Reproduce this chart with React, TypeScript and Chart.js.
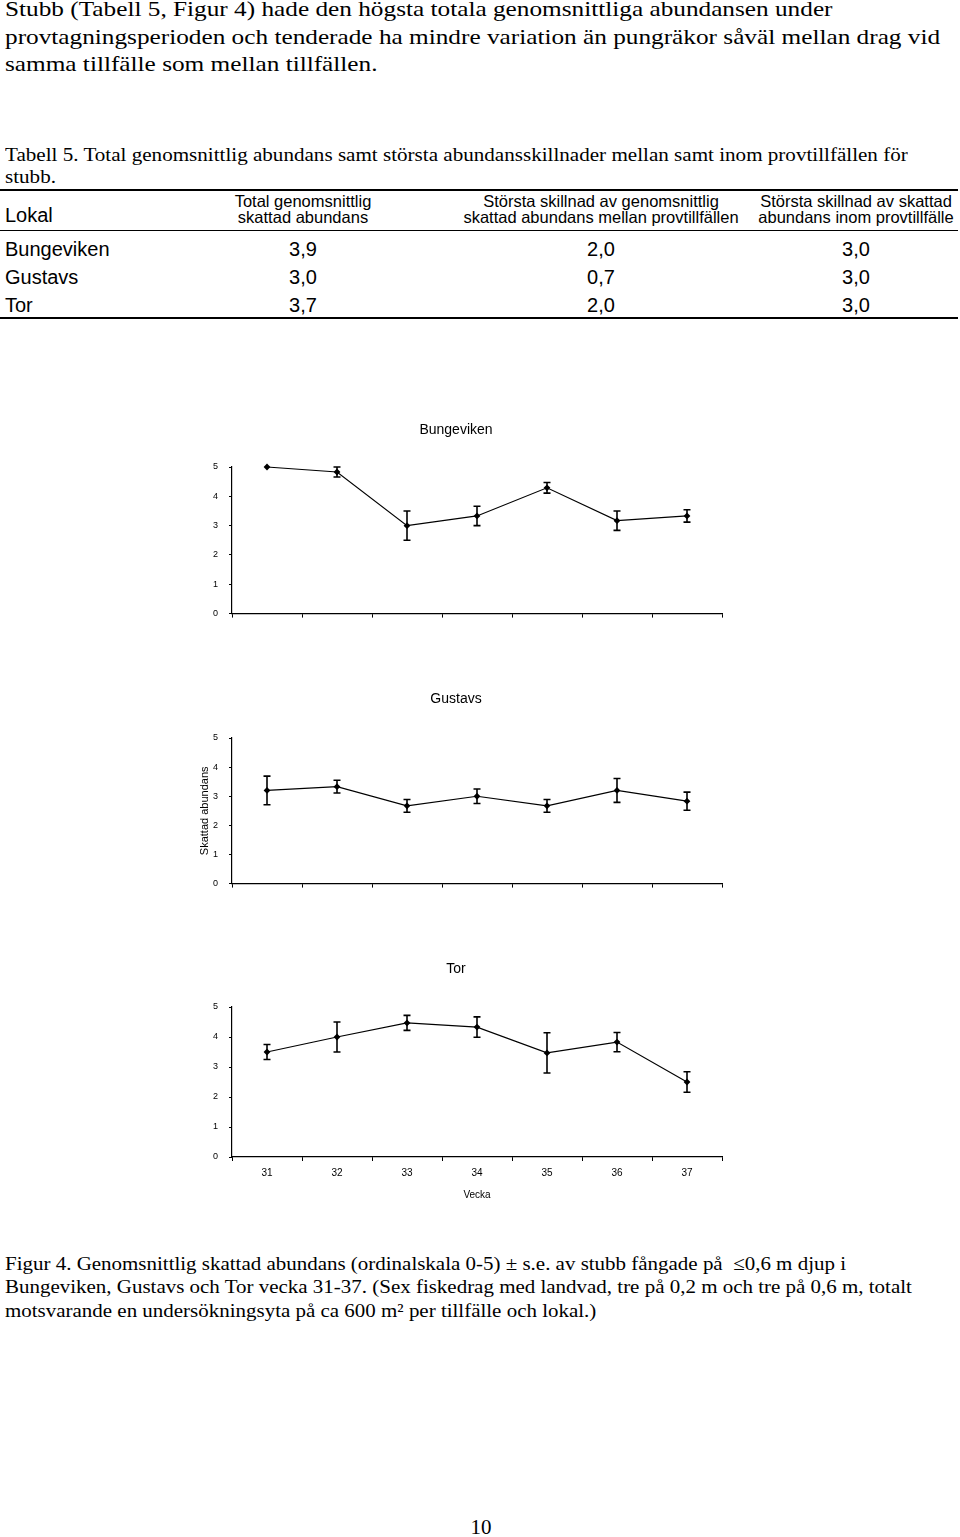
import React, { useEffect, useRef } from "react";
import { Chart, registerables } from "chart.js";

Chart.register(...registerables);

// ---- data ----
const weeks = ["31", "32", "33", "34", "35", "36", "37"];
const bungevikenMean = [5.0, 4.83, 3.0, 3.33, 4.29, 3.17, 3.33];
const bungevikenSe = [0, 0.17, 0.5, 0.33, 0.18, 0.33, 0.21];
const gustavsMean = [3.2, 3.33, 2.67, 3.0, 2.67, 3.2, 2.83];
const gustavsSe = [0.49, 0.22, 0.22, 0.25, 0.22, 0.41, 0.31];
const torMean = [3.5, 4.0, 4.47, 4.33, 3.47, 3.83, 2.5];
const torSe = [0.25, 0.5, 0.25, 0.34, 0.67, 0.32, 0.34];
const yMin = 0;
const yMax = 5;
const yStep = 1;

const lokaler = ["Bungeviken", "Gustavs", "Tor"];
const totalMean = ["3,9", "3,0", "3,7"];
const maxDiffBetween = ["2,0", "0,7", "2,0"];
const maxDiffWithin = ["3,0", "3,0", "3,0"];

const SANS = "'Liberation Sans', Arial, sans-serif";
const SERIF = "'Liberation Serif', 'Times New Roman', serif";

type ChartProps = {
  title: string;
  means: number[];
  se: number[];
  top: number;
  height: number;
  titleBottomPad: number;
  yTitle?: string;
  showX?: boolean;
  xTitle?: string;
  xAxisHeight: number;
};

function ErrorLineChart(p: ChartProps) {
  const ref = useRef<HTMLCanvasElement | null>(null);
  useEffect(() => {
    if (!ref.current) return;
    const se = p.se;
    const errorBars = {
      id: "errorBars",
      afterDatasetsDraw(chart: any) {
        const ctx = chart.ctx;
        const meta = chart.getDatasetMeta(0);
        const ys = chart.scales.y;
        const vals = chart.data.datasets[0].data as number[];
        ctx.save();
        ctx.strokeStyle = "#000";
        ctx.lineWidth = 1.6;
        meta.data.forEach((pt: any, i: number) => {
          const e = se[i];
          if (!e) return;
          const x = pt.x;
          const y1 = ys.getPixelForValue(vals[i] + e);
          const y2 = ys.getPixelForValue(vals[i] - e);
          ctx.beginPath();
          ctx.moveTo(x, y1);
          ctx.lineTo(x, y2);
          ctx.moveTo(x - 3.5, y1);
          ctx.lineTo(x + 3.5, y1);
          ctx.moveTo(x - 3.5, y2);
          ctx.lineTo(x + 3.5, y2);
          ctx.stroke();
        });
        ctx.restore();
      },
    };
    const chart = new Chart(ref.current, {
      type: "line",
      data: {
        labels: weeks,
        datasets: [
          {
            data: p.means,
            borderColor: "#000",
            backgroundColor: "#000",
            borderWidth: 1.2,
            pointStyle: "rectRot",
            pointRadius: 3.4,
            pointBackgroundColor: "#000",
            pointBorderColor: "#000",
            pointBorderWidth: 0,
            tension: 0,
            clip: false as any,
          },
        ],
      },
      options: {
        animation: false,
        responsive: false,
        layout: { padding: { left: 0, right: 18, top: 0, bottom: 0 } },
        plugins: {
          legend: { display: false },
          tooltip: { enabled: false },
          title: {
            display: true,
            text: p.title,
            color: "#000",
            font: { family: SANS, size: 14, weight: "normal", lineHeight: 1.2 },
            padding: { top: 12, bottom: p.titleBottomPad },
          },
        },
        scales: {
          x: {
            type: "category",
            offset: true,
            grid: {
              offset: true,
              drawOnChartArea: false,
              drawTicks: true,
              tickLength: 4,
              color: "#000",
            },
            border: { display: true, color: "#000", width: 1.2 },
            ticks: {
              display: !!p.showX,
              color: "#000",
              padding: 6,
              font: { family: SANS, size: 10 },
              maxRotation: 0,
            },
            title: {
              display: !!p.xTitle,
              text: p.xTitle || "",
              color: "#000",
              font: { family: SANS, size: 10, lineHeight: 1.2 },
              padding: { top: 0, bottom: 4 },
            },
            afterFit: (s: any) => {
              s.height = p.xAxisHeight;
            },
          },
          y: {
            min: yMin,
            max: yMax,
            ticks: {
              stepSize: yStep,
              color: "#000",
              padding: 11,
              font: { family: SANS, size: 9 },
            },
            grid: {
              drawOnChartArea: false,
              drawTicks: true,
              tickLength: 3,
              color: "#000",
            },
            border: { display: true, color: "#000", width: 1.2 },
            title: {
              display: !!p.yTitle,
              text: p.yTitle || "",
              color: "#000",
              font: { family: SANS, size: 11, lineHeight: 1.2 },
              padding: { top: 8.4, bottom: 0 },
            },
            afterFit: (s: any) => {
              s.width = 42;
            },
          },
        },
      },
      plugins: [errorBars],
    });
    return () => chart.destroy();
  }, []);
  return (
    <canvas
      ref={ref}
      width={550}
      height={p.height}
      style={{ position: "absolute", left: 190, top: p.top, width: 550, height: p.height }}
    />
  );
}

const abs = (s: React.CSSProperties): React.CSSProperties => ({
  position: "absolute",
  whiteSpace: "pre",
  margin: 0,
  ...s,
});

export default function App() {
  const colCenters = [303, 601, 856];
  const rowTops = [235, 263, 291];
  return (
    <div
      style={{
        position: "absolute",
        left: 0,
        top: 0,
        width: 960,
        height: 1537,
        background: "#fff",
        color: "#000",
        overflow: "hidden",
      }}
    >
      <div
        style={abs({
          left: 5,
          top: -4,
          fontFamily: SERIF,
          fontSize: 21.5,
          lineHeight: "27.5px",
          transform: "scaleX(1.175)",
          transformOrigin: "0 0",
        })}
      >
        {"Stubb (Tabell 5, Figur 4) hade den högsta totala genomsnittliga abundansen under"}
        <br />
        {"provtagningsperioden och tenderade ha mindre variation än pungräkor såväl mellan drag vid"}
        <br />
        {"samma tillfälle som mellan tillfällen."}
      </div>

      <div
        style={abs({
          left: 5,
          top: 143.8,
          fontFamily: SERIF,
          fontSize: 18.5,
          lineHeight: "22px",
          transform: "scaleX(1.14)",
          transformOrigin: "0 0",
        })}
      >
        {"Tabell 5. Total genomsnittlig abundans samt största abundansskillnader mellan samt inom provtillfällen för"}
        <br />
        {"stubb."}
      </div>

      {/* table rules */}
      <div style={abs({ left: 0, top: 189, width: 958, height: 2, background: "#000" })} />
      <div style={abs({ left: 0, top: 230, width: 958, height: 1, background: "#000" })} />
      <div style={abs({ left: 0, top: 317, width: 958, height: 2, background: "#000" })} />

      <div style={abs({ left: 5, top: 201, fontFamily: SANS, fontSize: 20, lineHeight: "28px" })}>Lokal</div>
      {[
        ["Total genomsnittlig", "skattad abundans"],
        ["Största skillnad av genomsnittlig", "skattad abundans mellan provtillfällen"],
        ["Största skillnad av skattad", "abundans inom provtillfälle"],
      ].map((lines, i) => (
        <div
          key={"h" + i}
          style={abs({
            left: colCenters[i] - 200,
            width: 400,
            top: 193.3,
            textAlign: "center",
            fontFamily: SANS,
            fontSize: 16.5,
            lineHeight: "16px",
          })}
        >
          {lines[0]}
          <br />
          {lines[1]}
        </div>
      ))}

      {lokaler.map((name, r) => (
        <React.Fragment key={name}>
          <div style={abs({ left: 5, top: rowTops[r], fontFamily: SANS, fontSize: 20, lineHeight: "28px" })}>
            {name}
          </div>
          {[totalMean[r], maxDiffBetween[r], maxDiffWithin[r]].map((v, c) => (
            <div
              key={c}
              style={abs({
                left: colCenters[c] - 50,
                width: 100,
                textAlign: "center",
                top: rowTops[r],
                fontFamily: SANS,
                fontSize: 20,
                lineHeight: "28px",
              })}
            >
              {v}
            </div>
          ))}
        </React.Fragment>
      ))}

      <ErrorLineChart
        title="Bungeviken"
        means={bungevikenMean}
        se={bungevikenSe}
        top={410}
        height={220}
        titleBottomPad={28.2}
        xAxisHeight={8}
      />
      <ErrorLineChart
        title="Gustavs"
        means={gustavsMean}
        se={gustavsSe}
        top={679}
        height={221}
        titleBottomPad={30.2}
        yTitle="Skattad abundans"
        xAxisHeight={8}
      />
      <ErrorLineChart
        title="Tor"
        means={torMean}
        se={torSe}
        top={949}
        height={256}
        titleBottomPad={29.2}
        showX
        xTitle="Vecka"
        xAxisHeight={48}
      />

      <div
        style={abs({
          left: 5,
          top: 1251.5,
          fontFamily: SERIF,
          fontSize: 19.5,
          lineHeight: "23.5px",
          transform: "scaleX(1.075)",
          transformOrigin: "0 0",
        })}
      >
        {"Figur 4. Genomsnittlig skattad abundans (ordinalskala 0-5) ± s.e. av stubb fångade på  ≤0,6 m djup i"}
        <br />
        {"Bungeviken, Gustavs och Tor vecka 31-37. (Sex fiskedrag med landvad, tre på 0,2 m och tre på 0,6 m, totalt"}
        <br />
        {"motsvarande en undersökningsyta på ca 600 m² per tillfälle och lokal.)"}
      </div>

      <div
        style={abs({
          left: 381,
          width: 200,
          textAlign: "center",
          top: 1517,
          fontFamily: SERIF,
          fontSize: 21,
          lineHeight: "21px",
        })}
      >
        10
      </div>
    </div>
  );
}
